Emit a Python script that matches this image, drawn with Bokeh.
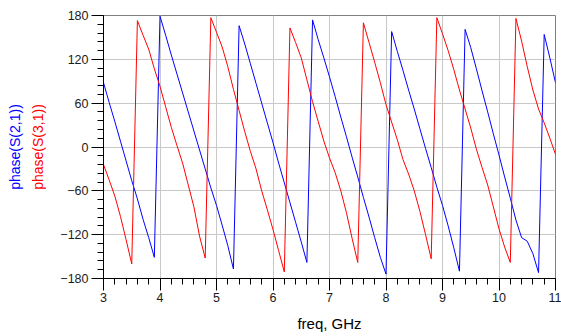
from bokeh.plotting import figure
from bokeh.models import Range1d, SingleIntervalTicker, Title
from bokeh.embed import file_html
from bokeh.resources import INLINE

freq = [3.0, 3.1, 3.2, 3.3, 3.4, 3.5, 3.6, 3.7, 3.8, 3.9,
        4.0, 4.1, 4.2, 4.3, 4.4, 4.5, 4.6, 4.7, 4.8, 4.9,
        5.0, 5.1, 5.2, 5.3, 5.4, 5.5, 5.6, 5.7, 5.8, 5.9,
        6.0, 6.1, 6.2, 6.3, 6.4, 6.5, 6.6, 6.7, 6.8, 6.9,
        7.0, 7.1, 7.2, 7.3, 7.4, 7.5, 7.6, 7.7, 7.8, 7.9,
        8.0, 8.1, 8.2, 8.3, 8.4, 8.5, 8.6, 8.7, 8.8, 8.9,
        9.0, 9.1, 9.2, 9.3, 9.4, 9.5, 9.6, 9.7, 9.8, 9.9,
        10.0, 10.1, 10.2, 10.3, 10.4, 10.5, 10.6, 10.7, 10.8, 10.9,
        11.0]

phase_s21 = [88, 61, 35, 8, -19, -46, -71, -99, -124, -151,
             179, 153, 126, 100, 74, 48, 22, -4, -30, -56,
             -80, -107, -135, -167, 166, 141, 114, 87, 60, 33,
             6, -22, -49, -76, -103, -130, -158, 174, 147, 122,
             96, 69, 41, 14, -14, -41, -69, -96, -124, -151,
             -174, 158, 131, 105, 78, 52, 25, -2, -28, -55,
             -80, -108, -138, -170, 161, 136, 107, 77, 48, 18,
             -11, -41, -70, -100, -124, -129, -146, -172, 154, 122,
             88]

phase_s31 = [-24, -45, -67, -95, -127, -160, 173, 153, 134, 107,
             83, 55, 27, 2, -22, -52, -82, -122, -152, 177,
             157, 137, 110, 79, 50, 21, -6, -30, -60, -86,
             -113, -142, -171, 163, 143, 122, 92, 62, 35, 8,
             -15, -35, -60, -90, -125, -158, 170, 143, 116, 88,
             58, 34, 10, -17, -37, -60, -88, -120, -153, 177,
             155, 132, 106, 78, 52, 26, -3, -28, -52, -82,
             -112, -137, -158, 176, 145, 110, 78, 52, 33, 12,
             -10]

x_label = "freq, GHz"
y_label_s21 = "phase(S(2,1))"
y_label_s31 = "phase(S(3,1))"

FONT = "Liberation Sans"

p = figure(width=561, height=336, output_backend="svg", toolbar_location=None,
           x_range=Range1d(3, 11), y_range=Range1d(-180, 180),
           min_border_left=103, min_border_right=6, min_border_top=15, min_border_bottom=58,
           background_fill_color="white", border_fill_color="white")

p.outline_line_color = "#808080"
p.outline_line_width = 1

p.xaxis.ticker = SingleIntervalTicker(interval=1, num_minor_ticks=5)
p.yaxis.ticker = SingleIntervalTicker(interval=60, num_minor_ticks=5)

for ax in (p.xaxis, p.yaxis):
    ax.axis_line_color = "#000000"
    ax.axis_line_width = 1
    ax.major_tick_line_color = "#000000"
    ax.minor_tick_line_color = "#000000"
    ax.major_tick_out = 12
    ax.major_tick_in = 0
    ax.minor_tick_out = 6
    ax.minor_tick_in = 0
    ax.major_label_text_font = FONT
    ax.major_label_text_font_size = "12.5px"
    ax.major_label_text_color = "#1a1a1a"

p.xaxis.major_label_standoff = 2
p.yaxis.major_label_standoff = 3

p.xaxis.axis_label = x_label
p.xaxis.axis_label_text_font = FONT
p.xaxis.axis_label_text_font_size = "15px"
p.xaxis.axis_label_text_font_style = "normal"
p.xaxis.axis_label_text_color = "#000000"
p.xaxis.axis_label_standoff = 10

p.xgrid.grid_line_color = "#c8c8c8"
p.ygrid.grid_line_color = "#c8c8c8"
p.xgrid.grid_line_width = 1
p.ygrid.grid_line_width = 1

p.line(freq, phase_s21, line_color="#0000ff", line_width=1)
p.line(freq, phase_s31, line_color="#ff0000", line_width=1)

t_red = Title(text=y_label_s31, text_color="#ff0000", text_font=FONT,
              text_font_size="14px", text_font_style="normal", align="center",
              standoff=23)
t_blue = Title(text=y_label_s21, text_color="#0000ff", text_font=FONT,
               text_font_size="14px", text_font_style="normal", align="center",
               standoff=-12)
p.add_layout(t_red, "left")
p.add_layout(t_blue, "left")

open("out.html", "w").write(file_html(p, INLINE))
